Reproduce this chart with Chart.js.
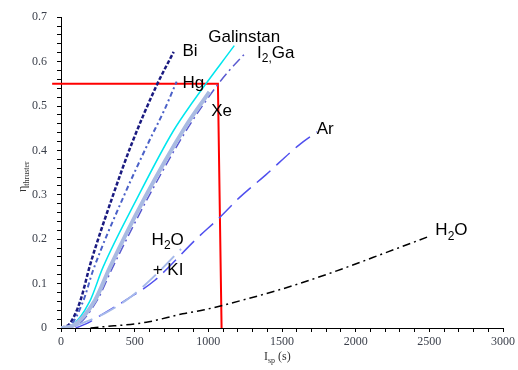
<!DOCTYPE html>
<html>
<head>
<meta charset="utf-8">
<script src="https://cdn.jsdelivr.net/npm/chart.js@4.4.1/dist/chart.umd.min.js"></script>
<style>
  body { margin: 0; background: #fff; }
  #wrap { width: 518px; height: 370px; }
</style>
</head>
<body>
<div id="wrap"><canvas id="thrusterChart"></canvas></div>
<script>
"use strict"

// values (Isp in s, efficiency)
const biIsp  = [0, 60, 130, 200, 347, 480, 647, 765];
const biEta  = [0, 0.01, 0.06, 0.145, 0.293, 0.415, 0.545, 0.622];
const hgIsp  = [0, 60, 150, 218, 421, 597, 700, 785];
const hgEta  = [0, 0.005, 0.06, 0.13, 0.293, 0.42, 0.49, 0.555];
const galIsp = [0, 70, 195, 284, 518, 759, 894, 1176];
const galEta = [0, 0.005, 0.06, 0.136, 0.293, 0.442, 0.509, 0.636];
const xeIsp  = [0, 80, 230, 331, 568, 838, 1007];
const xeEta  = [0, 0.005, 0.062, 0.136, 0.293, 0.45, 0.532];
const igaIsp = [0, 100, 245, 350, 590, 860, 1061, 1142, 1254];
const igaEta = [0, 0.005, 0.062, 0.136, 0.293, 0.45, 0.547, 0.58, 0.62];
const arIsp  = [100, 173, 252, 455, 635, 917, 1074, 1209, 1390, 1615, 1739];
const arEta  = [0, 0.01, 0.025, 0.066, 0.107, 0.2, 0.248, 0.293, 0.345, 0.412, 0.442];
const kiIsp  = [100, 297, 477, 650, 815];
const kiEta  = [0.005, 0.033, 0.071, 0.122, 0.178];
const h2oIsp = [200, 264, 579, 826, 973, 1097, 1502, 1840, 2223, 2504];
const h2oEta = [0, 0.002, 0.013, 0.032, 0.041, 0.051, 0.088, 0.125, 0.172, 0.207];
// red design point guide
const redIsp = [-60, 1065, 1090];
const redEta = [0.55, 0.55, 0];

// curve labels: [x, y, parts]  parts = [text, isSub]
const curveLabels = [
    [824, 0.623, [["Bi", false]]],
    [824, 0.552, [["Hg", false]]],
    [1000, 0.655, [["Galinstan", false]]],
    [1331, 0.619, [["I", false], ["2", true], [",", true], ["Ga", false]]],
    [1020, 0.489, [["Xe", false]]],
    [1736, 0.447, [["Ar", false]]],
    [615, 0.198, [["H", false], ["2", true], ["O", false]]],
    [622, 0.129, [["+ KI", false]]],
    [2541, 0.219, [["H", false], ["2", true], ["O", false]]]
];

function pts(xs, ys) {
    return xs.map((x, i) => ({x: x, y: ys[i]}));
}

function drawParts(ctx, x, y, parts, big, small, face) {
    let cx = x;
    parts.forEach(p => {
        ctx.font = (p[1] ? small : big) + "px " + face;
        ctx.fillText(p[0], cx, p[1] ? y + big * 0.35 : y);
        cx += ctx.measureText(p[0]).width;
    });
}

const labelPlugin = {
    id: "labels",
    afterDatasetsDraw(chart) {
        const ctx = chart.ctx;
        const xs = chart.scales.x, ys = chart.scales.y;
        ctx.save();
        ctx.fillStyle = "#000";
        ctx.textBaseline = "middle";
        ctx.textAlign = "left";
        curveLabels.forEach(l => {
            drawParts(ctx, xs.getPixelForValue(l[0]), ys.getPixelForValue(l[1]), l[2], 17, 12, "'Liberation Sans', Arial, sans-serif");
        });
        // axis titles
        ctx.fillStyle = "#333";
        drawParts(ctx, 264, 357, [["I", false], ["sp", true], [" (s)", false]], 12, 8, "'Liberation Serif', serif");
        ctx.translate(23, 192);
        ctx.rotate(-Math.PI / 2);
        drawParts(ctx, 0, 0, [["\u03b7", false], ["thruster", true]], 12, 8, "'Liberation Serif', serif");
        ctx.restore();
    }
};

const common = {pointRadius: 0, borderWidth: 1.5, fill: false, cubicInterpolationMode: "monotone"};

new Chart(document.getElementById("thrusterChart"), {
    type: "line",
    data: {
        datasets: [
            Object.assign({}, common, {label: "H2O", data: pts(h2oIsp, h2oEta), borderColor: "#000", borderDash: [8, 4, 2, 4]}),
            Object.assign({}, common, {label: "H2O + KI", data: pts(kiIsp, kiEta), borderColor: "#a6b9ea", borderWidth: 2, borderDash: [18, 8]}),
            Object.assign({}, common, {label: "Ar", data: pts(arIsp, arEta), borderColor: "#5050ee", borderDash: [18, 8]}),
            Object.assign({}, common, {label: "Xe band", data: pts(xeIsp, xeEta), borderColor: "#a9bae2", borderWidth: 4}),
            Object.assign({}, common, {label: "Xe", data: pts(xeIsp, xeEta), borderColor: "#2a2a90", borderDash: [3, 2]}),
            Object.assign({}, common, {label: "I2, Ga", data: pts(igaIsp, igaEta), borderColor: "#5a5ad0", borderDash: [10, 4, 2, 4]}),
            Object.assign({}, common, {label: "Galinstan", data: pts(galIsp, galEta), borderColor: "#00e6ee"}),
            Object.assign({}, common, {label: "Hg", data: pts(hgIsp, hgEta), borderColor: "#4b61c8", borderWidth: 2, borderDash: [5, 3, 2, 3]}),
            Object.assign({}, common, {label: "Bi", data: pts(biIsp, biEta), borderColor: "#1a1a80", borderWidth: 2.5, borderDash: [4, 2]}),
            {label: "design", data: pts(redIsp, redEta), borderColor: "#ff0000", borderWidth: 2, pointRadius: 0, tension: 0, clip: false}
        ]
    },
    options: {
        responsive: true,
        maintainAspectRatio: false,
        animation: false,
        layout: {padding: {left: 21, right: 13, top: 15, bottom: 0}},
        plugins: {legend: {display: false}, tooltip: {enabled: false}},
        scales: {
            x: {
                type: "linear", min: 0, max: 3000,
                afterFit: s => { s.height = 42; },
                grid: {drawOnChartArea: false, tickLength: 4, tickColor: "#000"},
                border: {color: "#000"},
                ticks: {
                    stepSize: 100, autoSkip: false, maxRotation: 0, padding: 3,
                    color: "#3a3f4a", font: {family: "'Liberation Serif', serif", size: 12},
                    callback: v => (Math.round(v) % 500 === 0 ? String(v) : "")
                }
            },
            y: {
                type: "linear", min: 0, max: 0.7,
                afterFit: s => { s.width = 40; },
                grid: {drawOnChartArea: false, tickLength: 4, tickColor: "#000"},
                border: {color: "#000"},
                ticks: {
                    stepSize: 0.02, autoSkip: false, padding: 10,
                    color: "#3a3f4a", font: {family: "'Liberation Serif', serif", size: 12},
                    callback: v => {
                        const t = Math.round(v * 100);
                        return t % 10 === 0 ? String(t / 100) : "";
                    }
                }
            }
        }
    },
    plugins: [labelPlugin]
});
</script>
</body>
</html>
